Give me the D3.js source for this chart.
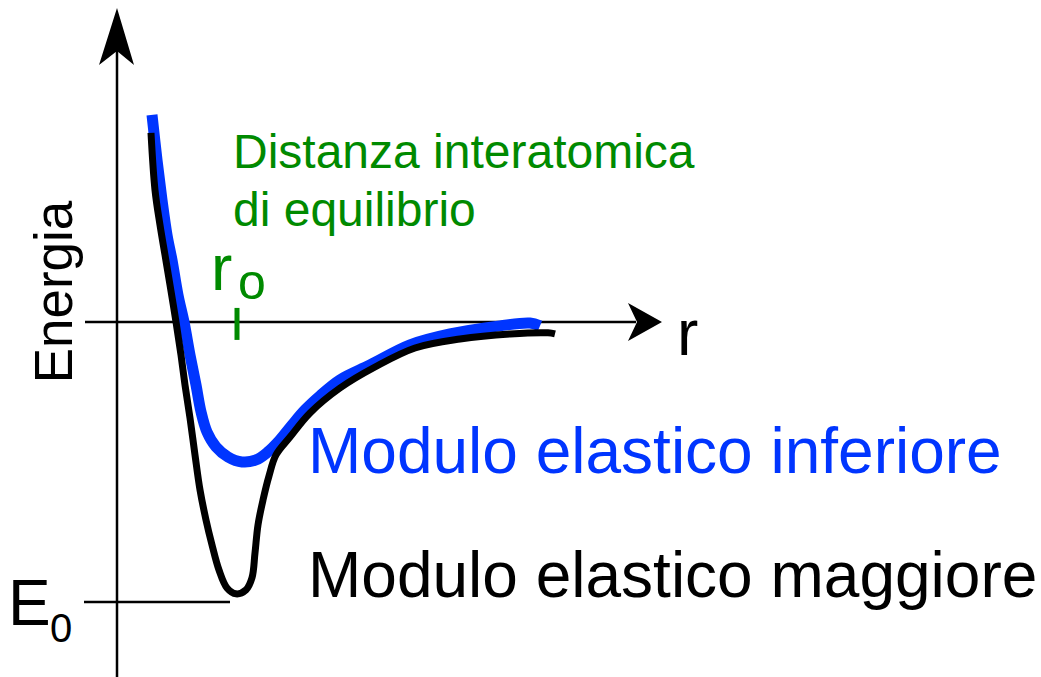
<!DOCTYPE html>
<html>
<head>
<meta charset="utf-8">
<script src="https://cdn.jsdelivr.net/npm/d3@7"></script>
<style>
  html, body { margin: 0; padding: 0; background: #fff; }
  svg { display: block; }
  text { font-family: "Liberation Sans", Arial, Helvetica, sans-serif; }
</style>
</head>
<body>
<svg id="chart" width="1041" height="677"></svg>
<script>
// Interatomic distance r (arbitrary units) and potential energy E (E0 = -1)
const rSoft = [0.70, 0.80, 0.90, 1.00, 1.10, 1.22, 1.34, 1.46, 1.58, 1.68, 1.80, 1.98, 2.22, 2.50, 2.78, 3.02, 3.22, 3.50, 3.76, 4.06, 4.46, 5.06, 5.86, 6.66, 7.66, 8.26, 8.46];
const eSoft = [0.739, 0.579, 0.436, 0.311, 0.221, 0.096, 0.000, -0.118, -0.225, -0.321, -0.393, -0.446, -0.482, -0.500, -0.493, -0.464, -0.429, -0.368, -0.314, -0.264, -0.207, -0.154, -0.082, -0.043, -0.014, -0.004, -0.014];

const rStiff = [0.68, 0.76, 0.86, 0.96, 1.06, 1.18, 1.28, 1.36, 1.46, 1.56, 1.66, 1.78, 1.90, 2.04, 2.20, 2.38, 2.58, 2.70, 2.76, 2.82, 2.92, 3.04, 3.18, 3.46, 3.86, 4.46, 5.16, 5.96, 6.86, 7.86, 8.62, 8.76];
const eStiff = [0.675, 0.471, 0.346, 0.239, 0.132, 0.000, -0.118, -0.225, -0.343, -0.475, -0.600, -0.707, -0.796, -0.886, -0.950, -0.971, -0.957, -0.914, -0.825, -0.725, -0.636, -0.550, -0.475, -0.411, -0.325, -0.236, -0.161, -0.093, -0.061, -0.043, -0.039, -0.043];

const r0 = 2.40;      // equilibrium distance
const E0 = -1;        // well depth

const labelTitle = ["Distanza interatomica", "di equilibrio"];
const labelSoft = "Modulo elastico inferiore";
const labelStiff = "Modulo elastico maggiore";

const svg = d3.select("#chart");

// r = 0 sits on the energy axis, E = 0 on the distance axis
const x = d3.scaleLinear().domain([0, 10.9]).range([117, 662]);
const y = d3.scaleLinear().domain([-1.268, 1.121]).range([677, 8]);

const green = "#008a00";
const blue = "#0035ff";

// ---- axes ----
const ax = svg.append("g").attr("stroke", "#000").attr("stroke-width", 2.5);
// energy axis (vertical)
ax.append("line").attr("x1", x(0)).attr("x2", x(0)).attr("y1", y(-1.268)).attr("y2", y(1.121) + 40);
// distance axis (horizontal)
ax.append("line").attr("x1", x(-0.64)).attr("x2", x(10.9) - 26).attr("y1", y(0)).attr("y2", y(0));
// E0 level
ax.append("line").attr("x1", x(-0.66)).attr("x2", x(2.26)).attr("y1", y(E0)).attr("y2", y(E0));

// arrowheads
const tipY = [x(0), y(1.121)];
svg.append("path")
  .attr("d", `M${tipY[0]},${tipY[1]} L${tipY[0] + 17},${tipY[1] + 57} L${tipY[0]},${tipY[1] + 43} L${tipY[0] - 18},${tipY[1] + 57} Z`)
  .attr("fill", "#000");
const tipX = [x(10.9), y(0)];
svg.append("path")
  .attr("d", `M${tipX[0]},${tipX[1]} L${tipX[0] - 34},${tipX[1] + 19} L${tipX[0] - 25},${tipX[1]} L${tipX[0] - 34},${tipX[1] - 19} Z`)
  .attr("fill", "#000");

// ---- curves ----
const line = d3.line()
  .x(d => x(d[0]))
  .y(d => y(d[1]))
  .curve(d3.curveCatmullRom.alpha(0.5));

svg.append("path")
  .datum(rSoft.map((r, i) => [r, eSoft[i]]))
  .attr("d", line)
  .attr("fill", "none")
  .attr("stroke", blue)
  .attr("stroke-width", 11)
  .attr("stroke-linejoin", "round");

svg.append("path")
  .datum(rStiff.map((r, i) => [r, eStiff[i]]))
  .attr("d", line)
  .attr("fill", "none")
  .attr("stroke", "#000")
  .attr("stroke-width", 7)
  .attr("stroke-linejoin", "round");

// ---- r0 marker ----
svg.append("line")
  .attr("x1", x(r0)).attr("x2", x(r0))
  .attr("y1", y(0) - 14).attr("y2", y(0) + 18)
  .attr("stroke", green).attr("stroke-width", 5);

svg.append("text").attr("x", 211).attr("y", 290)
  .attr("font-size", 64).attr("fill", green).text("r");
svg.append("text").attr("x", 238).attr("y", 299)
  .attr("font-size", 50).attr("fill", green).text("o");

// ---- labels ----
svg.append("text").attr("x", 233).attr("y", 168)
  .attr("font-size", 48).attr("fill", green).text(labelTitle[0]);
svg.append("text").attr("x", 233).attr("y", 226)
  .attr("font-size", 48).attr("fill", green).text(labelTitle[1]);

svg.append("text").attr("x", 677).attr("y", 355)
  .attr("font-size", 64).attr("fill", "#000").text("r");

svg.append("text")
  .attr("transform", "translate(72,292) rotate(-90)")
  .attr("text-anchor", "middle")
  .attr("font-size", 53).attr("fill", "#000").text("Energia");

svg.append("text").attr("x", 8).attr("y", 625)
  .attr("font-size", 64).attr("fill", "#000").text("E");
svg.append("text").attr("x", 50).attr("y", 642)
  .attr("font-size", 40).attr("fill", "#000").text("0");

svg.append("text").attr("x", 308).attr("y", 473)
  .attr("font-size", 64).attr("fill", blue).text(labelSoft);
svg.append("text").attr("x", 308).attr("y", 597)
  .attr("font-size", 64).attr("fill", "#000").text(labelStiff);
</script>
</body>
</html>
